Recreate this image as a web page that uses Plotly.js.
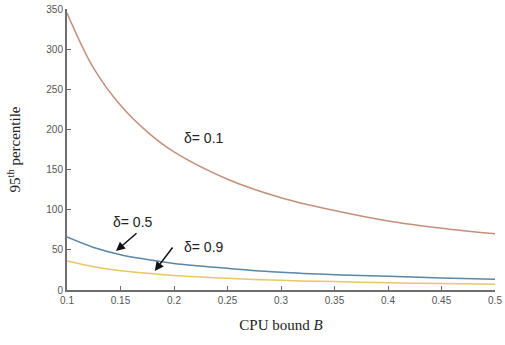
<!DOCTYPE html>
<html>
<head>
<meta charset="utf-8">
<script src="https://cdn.plot.ly/plotly-3.0.1.min.js"></script>
<style>html,body{margin:0;padding:0;background:#fff;}#chart{width:505px;height:345px;}</style>
</head>
<body>
<div id="chart"></div>
<script>
var cpuBound = [0.1, 0.125, 0.15, 0.175, 0.2, 0.25, 0.3, 0.35, 0.4, 0.45, 0.5];
var delta01 = [345, 276, 230, 197, 172, 138, 115, 99, 86, 77, 70];
var delta05 = [66, 53, 44, 38, 33, 27, 22, 19, 17, 15, 13.5];
var delta09 = [36, 29, 24, 21, 18, 14.5, 12, 10.5, 9, 8, 7.3];
var xTicks = [0.1, 0.15, 0.2, 0.25, 0.3, 0.35, 0.4, 0.45, 0.5];
var xTickText = ['0.1', '0.15', '0.2', '0.25', '0.3', '0.35', '0.4', '0.45', '0.5'];
var yTicks = [0, 50, 100, 150, 200, 250, 300, 350];
var labels = ['δ= 0.1', 'δ= 0.5', 'δ= 0.9'];

var traces = [
  {x: cpuBound, y: delta01, mode: 'lines', line: {color: '#c4907c', width: 1.5, shape: 'spline'}},
  {x: cpuBound, y: delta05, mode: 'lines', line: {color: '#5b86a6', width: 1.5, shape: 'spline'}},
  {x: cpuBound, y: delta09, mode: 'lines', line: {color: '#e8c766', width: 1.5, shape: 'spline'}}
];

var tfont = {family: 'Liberation Sans, Arial, sans-serif', size: 14, color: '#222'};
var layout = {
  width: 505, height: 345,
  margin: {l: 67, r: 10, t: 9, b: 55},
  showlegend: false,
  paper_bgcolor: '#fff', plot_bgcolor: '#fff',
  xaxis: {
    range: [0.1, 0.5], tickvals: xTicks, ticktext: xTickText,
    showgrid: false, zeroline: false, showline: true, linecolor: '#6e6e6e', linewidth: 2,
    ticks: 'inside', ticklen: 4, tickcolor: '#6e6e6e', tickwidth: 1,
    tickfont: {family: 'Liberation Sans, Arial, sans-serif', size: 10, color: '#555'},
    title: {text: 'CPU bound <i>B</i>', font: {family: 'Liberation Serif, Times New Roman, serif', size: 15, color: '#222'}, standoff: 14}
  },
  yaxis: {
    range: [0, 350], tickvals: yTicks,
    showgrid: false, zeroline: false, showline: true, linecolor: '#6e6e6e', linewidth: 2,
    ticks: 'inside', ticklen: 4, tickcolor: '#6e6e6e', tickwidth: 1,
    tickfont: {family: 'Liberation Sans, Arial, sans-serif', size: 10, color: '#555'},
    title: {text: '95<sup>th</sup> percentile', font: {family: 'Liberation Serif, Times New Roman, serif', size: 15, color: '#222'}, standoff: 22}
  },
  annotations: [
    {x: 0.228, y: 189, text: labels[0], showarrow: false, font: tfont},
    {x: 0.1617, y: 84.7, text: labels[1], showarrow: false, font: tfont},
    {x: 0.228, y: 53.5, text: labels[2], showarrow: false, font: tfont},
    {x: 0.1458, y: 48.6, text: '', showarrow: true, ax: 22, ay: -19, arrowhead: 2, arrowsize: 1.2, arrowwidth: 1.5, arrowcolor: '#111', standoff: 0},
    {x: 0.182, y: 23.7, text: '', showarrow: true, ax: 19, ay: -25, arrowhead: 2, arrowsize: 1.2, arrowwidth: 1.5, arrowcolor: '#111', standoff: 0}
  ]
};
Plotly.newPlot('chart', traces, layout, {displayModeBar: false, staticPlot: true});
</script>
</body>
</html>
